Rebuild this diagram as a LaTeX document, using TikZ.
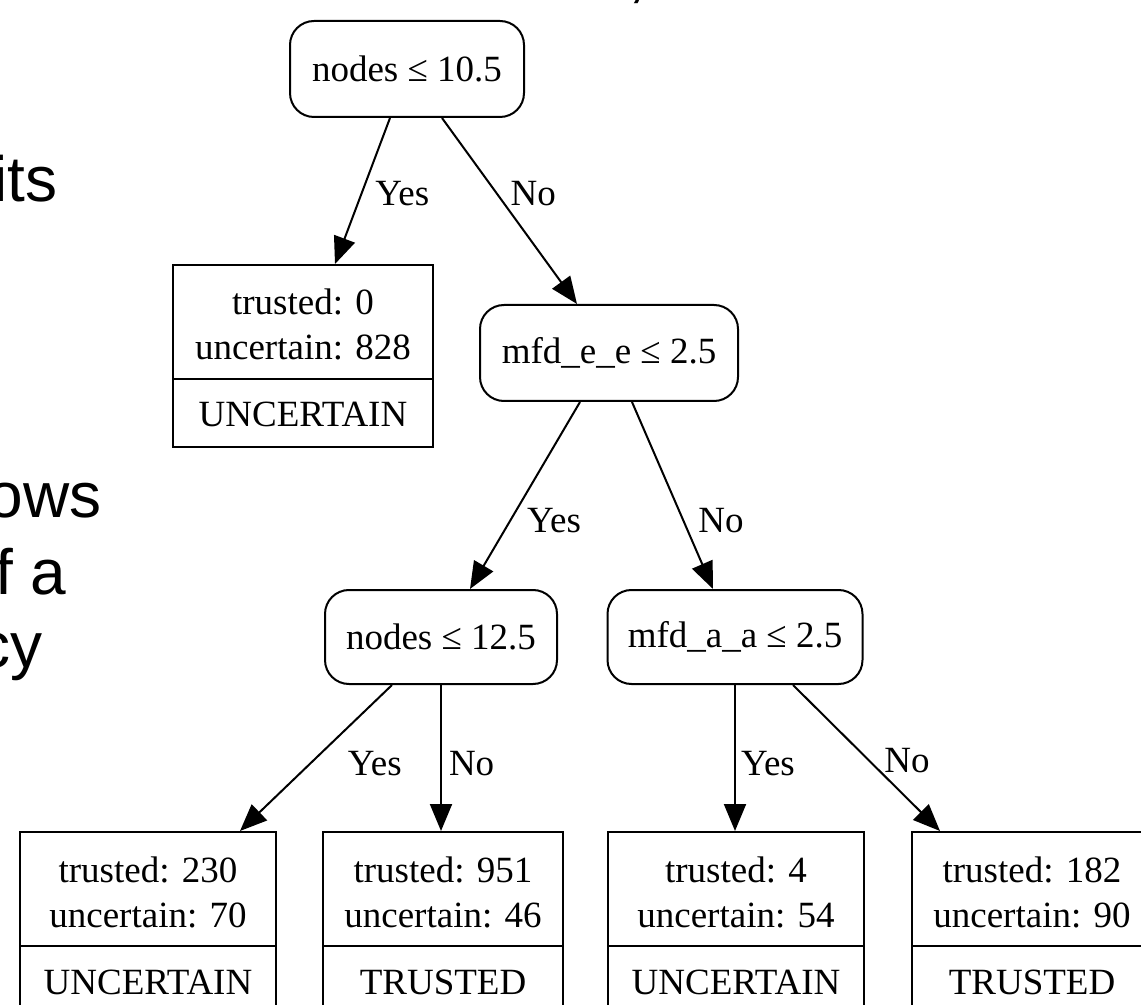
\documentclass[tikz,border=0pt]{standalone}
\usepackage{fontspec}
\setmainfont{Liberation Serif}
\setsansfont{Liberation Sans}
\usetikzlibrary{positioning}
\usetikzlibrary{shapes.multipart}
\usetikzlibrary{arrows.meta}

\newcommand{\treefont}{\fontsize{18.5pt}{22.5pt}\selectfont\frenchspacing}
\newcommand{\sidefont}{\sffamily\fontsize{32pt}{40pt}\selectfont}
\newcommand{\countstrut}{\rule{0pt}{24.5pt}}
\newcommand{\countdepth}{\rule[-9pt]{0pt}{9pt}}
\newcommand{\classstrut}{\rule{0pt}{23.5pt}\rule[-9.5pt]{0pt}{9.5pt}}

\begin{document}
\begin{tikzpicture}[x=0.5pt, y=-0.5pt,
	decision/.style={draw, line width=1pt, rounded corners=12pt, minimum height=48pt, inner sep=0pt, font=\treefont},
	leaf/.style={draw, line width=1pt, rectangle split, rectangle split parts=2, align=center, inner xsep=0pt, inner ysep=0pt, anchor=north, font=\treefont},
	edge/.style={line width=1pt, -{Triangle[length=13.5pt, width=11pt]}},
	lbl/.style={inner sep=2pt, font=\treefont},
	side/.style={inner sep=0pt, anchor=base east, font=\sidefont}]
				\useasboundingbox (0,0) rectangle (1141,1005);
				
				% cut-off text at the left and top
				\node[side] (its) at (58,202) {its};
				\node[side] (ows) at (102,518) {ows};
				\node[side] (fa) at (67,595) {f a};
				\node[side] (cy) at (43,667) {cy};
				\node[side, anchor=base] (comma) at (637,-4) {,};
				
				% split nodes
				\node[decision, minimum width=117pt] (root) at (407,69) {nodes ≤ 10.5};
				\node[decision, minimum width=129pt] (mfdee) at (609,353) {mfd\_e\_e ≤ 2.5};
				\node[decision, minimum width=116pt, minimum height=47pt] (nodesB) at (441,637) {nodes ≤ 12.5};
				\node[decision, minimum width=127.5pt, minimum height=47pt] (mfdaa) at (735,637) {mfd\_a\_a ≤ 2.5};
				
				% leaves
				\node[leaf, text width=130pt] (leafA) at (303,264) {\countstrut trusted: 0\\uncertain: 828\countdepth \nodepart{two}\classstrut UNCERTAIN};
				\node[leaf, text width=128pt] (leafB) at (148,831) {\countstrut trusted: 230\\uncertain: 70\countdepth \nodepart{two}\classstrut UNCERTAIN};
				\node[leaf, text width=120pt] (leafC) at (443,831) {\countstrut trusted: 951\\uncertain: 46\countdepth \nodepart{two}\classstrut TRUSTED};
				\node[leaf, text width=128pt] (leafD) at (736,831) {\countstrut trusted: 4\\uncertain: 54\countdepth \nodepart{two}\classstrut UNCERTAIN};
				\node[leaf, text width=120pt] (leafE) at (1032,831) {\countstrut trusted: 182\\uncertain: 90\countdepth \nodepart{two}\classstrut TRUSTED};
				
				\draw[edge] ([xshift=-8.5pt]root.south) -- ([xshift=16pt]leafA.north) node[lbl, pos=0.52, right=4.5pt] (yesA) {Yes};
				\draw[edge] ([xshift=17.5pt]root.south) -- ([xshift=-16pt]mfdee.north) node[lbl, pos=0.405, right=4.5pt] (noA) {No};
				\draw[edge] ([xshift=-14.5pt]mfdee.south) -- ([xshift=14.5pt]nodesB.north) node[lbl, pos=0.635, right=6pt] (yesB) {Yes};
				\draw[edge] ([xshift=11.5pt]mfdee.south) -- ([xshift=-11pt]mfdaa.north) node[lbl, pos=0.635, right=5pt] (noB) {No};
				\draw[edge] ([xshift=-24.5pt]nodesB.south) -- ([xshift=46pt]leafB.north) node[lbl, pos=0.54, right=16.5pt] (yesC) {Yes};
				\draw[edge] (nodesB.south) -- (nodesB.south |- leafC.north) node[lbl, pos=0.54, right=1.5pt] (noC) {No};
				\draw[edge] (mfdaa.south) -- (mfdaa.south |- leafD.north) node[lbl, pos=0.54, right=0.5pt] (yesD) {Yes};
				\draw[edge] ([xshift=29pt]mfdaa.south) -- ([xshift=-46pt]leafE.north) node[lbl, pos=0.52, right=5pt] (noD) {No};
			\end{tikzpicture}
\end{document}
